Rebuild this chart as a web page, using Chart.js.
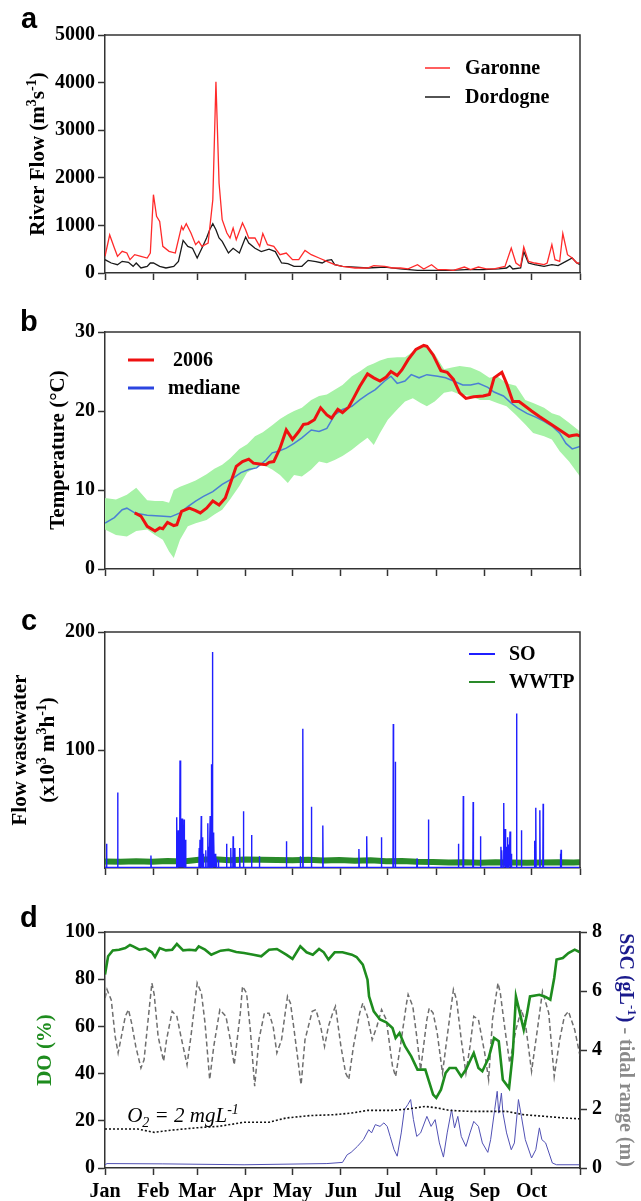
<!DOCTYPE html>
<html>
<head>
<meta charset="utf-8">
<script src="https://cdn.jsdelivr.net/npm/chart.js@4.4.1/dist/chart.umd.min.js"></script>
<style>
  html, body { margin: 0; padding: 0; background: #fff; }
  .panel { position: absolute; left: 0; width: 641px; }
</style>
</head>
<body>
<div class="panel" style="top:0;height:300px"><canvas id="chartA"></canvas></div>
<div class="panel" style="top:300px;height:300px"><canvas id="chartB"></canvas></div>
<div class="panel" style="top:600px;height:300px"><canvas id="chartC"></canvas></div>
<div class="panel" style="top:900px;height:301px"><canvas id="chartD"></canvas></div>
<script>
// day of year (0 = 1 Jan 2006), month starts for the x axis
const monthStarts = [0, 31, 59, 90, 120, 151, 181, 212, 243, 273, 304];
const monthLabels = ["Jan", "Feb", "Mar", "Apr", "May", "Jun", "Jul", "Aug", "Sep", "Oct", ""];

// (a) river flow, m3/s
const garonneDays = [0,3,6,8,11,14,16,19,23,27,29,31,33,35,37,41,45,49,50,52,55,58,60,62,66,69,71,73,75,78,80,82,84,88,90,92,96,99,101,104,108,112,116,120,124,128,132,137,142,147,152,160,168,172,179,184,189,194,200,204,209,213,218,223,230,234,239,244,249,256,260,263,266,268,271,275,281,283,286,288,291,293,296,299,302,304];
const garonneFlow = [350,800,525,350,455,420,280,385,350,315,420,1645,1190,1085,560,455,420,980,910,1036,840,595,665,560,630,1540,4020,1890,1120,840,735,945,700,1050,910,735,735,560,830,595,560,385,420,280,280,475,385,315,245,175,140,105,105,155,140,105,105,85,175,85,175,70,70,55,125,70,125,85,85,140,525,210,140,545,245,210,175,210,595,280,245,830,385,315,210,210];
const dordogneDays = [0,4,8,11,15,18,20,23,27,29,31,35,39,44,47,50,53,56,59,62,65,67,69,71,73,75,79,82,86,90,92,96,100,105,109,113,117,121,126,130,135,139,142,145,147,152,160,168,179,189,200,210,221,231,242,252,257,259,261,266,268,271,275,281,286,290,295,299,302,304];
const dordogneFlow = [280,210,175,245,225,140,210,105,140,210,210,140,105,140,245,685,560,520,315,520,735,910,1036,910,735,665,420,520,420,755,630,520,450,500,450,210,195,140,140,265,240,210,265,280,175,140,125,105,125,85,55,55,55,70,70,85,105,155,85,105,450,210,175,140,175,155,245,315,210,175];

// (b) water temperature, °C
const temp2006Days = [19,23,27,32,35,37,40,44,46,49,54,58,61,65,69,73,77,80,84,88,92,95,99,103,105,108,112,116,120,124,127,130,134,138,142,145,149,152,156,159,163,168,172,176,180,183,187,190,194,199,204,206,210,215,219,223,227,231,236,242,246,249,254,257,261,265,269,273,278,285,291,297,299,302,304];
const temp2006 = [7.1,6.7,5.4,4.8,5.2,5.1,5.9,5.5,5.6,7.3,7.7,7.4,7.1,7.7,8.6,8.1,9.0,10.7,13.0,13.6,13.9,13.4,13.3,13.2,13.5,13.6,15.3,17.6,16.4,17.4,18.3,18.4,18.9,20.4,19.5,19.1,20.2,19.8,20.5,21.6,23.1,24.7,24.2,23.8,24.3,25.0,24.5,25.2,26.5,27.8,28.3,28.2,27.1,25.1,24.9,24.0,22.3,21.6,21.8,21.9,22.1,24.2,24.9,23.5,21.2,21.2,20.6,20.0,19.3,18.4,17.6,16.8,16.9,17.0,16.8];
const medianDays = [0,6,11,14,19,27,35,42,48,53,58,63,69,75,82,87,92,97,103,107,111,116,121,126,132,137,142,147,152,158,163,168,173,179,183,187,192,196,201,206,213,218,223,229,234,239,245,249,255,260,264,270,276,281,286,291,295,299,304];
const medianTemp = [5.8,6.5,7.5,7.7,7.1,6.8,6.7,6.6,7.1,7.9,8.6,9.2,9.8,10.7,11.5,12.2,12.6,12.8,13.8,14.7,14.9,15.3,15.9,16.6,17.6,17.4,17.8,19.5,20.2,20.6,21.4,22.1,22.7,23.8,24.4,23.5,23.8,24.6,24.2,24.6,24.4,24.2,23.8,23.3,23.3,23.5,23.0,22.4,21.9,21.0,20.4,19.7,19.2,18.7,18.1,17.2,15.9,15.2,15.5];
const bandDays = [0,7,14,20,27,32,37,41,44,48,53,58,65,70,75,80,86,91,96,101,107,112,117,121,126,132,137,142,147,152,158,163,168,172,176,181,187,192,197,202,206,211,217,222,227,234,240,246,251,257,263,269,274,281,286,291,297,304];
const bandHigh = [9.0,8.8,9.4,10.3,8.7,8.6,8.6,8.4,10.0,10.4,10.8,11.2,12.0,12.7,13.2,14.0,15.2,15.8,16.8,17.3,18.2,19.0,19.6,20.0,20.4,21.4,21.9,22.1,22.7,23.3,24.4,25.0,25.7,26.0,26.4,26.7,26.8,26.8,27.5,28.2,28.3,27.2,25.3,25.5,25.7,25.5,25.0,24.2,24.4,23.5,23.2,21.4,21.0,20.4,19.7,19.4,18.5,17.4];
const bandLow = [5.0,4.3,4.1,4.8,5.0,4.3,3.7,2.2,1.4,3.7,5.4,5.8,6.2,6.9,7.5,8.8,10.5,12.2,12.8,13.2,12.6,11.9,10.9,11.9,11.7,12.6,13.6,13.4,13.8,14.3,15.1,15.9,16.6,15.7,17.2,18.9,20.2,21.2,21.6,21.0,20.6,21.2,22.3,22.5,22.1,21.9,21.4,21.4,21.0,20.6,19.5,18.3,17.2,16.8,16.4,14.9,13.6,11.7];

// (c) wastewater flow, x10^3 m3/h
const soDays = [1,8.1,29.4,45.9,46.4,46.9,47.5,48,48.6,49.3,50,50.6,51.6,60.3,60.8,61.2,61.6,62.4,63,64.5,65.8,66.5,67.3,68.1,68.7,69.2,69.7,70.5,71.2,72.6,77.8,80.5,82,83.1,86.2,88.6,93.8,98.8,116.1,125,126.6,132.1,139.4,162.5,167.5,176.9,184.5,185.8,199.7,207,226.2,229.3,235.6,240.3,253.4,254,255.2,256,256.8,257.6,258.4,259.2,260,263.4,266.5,274.9,275.7,278.3,280.4,291.4,291.9];
const soPeaks = [20.6,64,10.5,43,15,32,20,91,25,42,18,41,24,17,24,15,44,26,12,15,38,18,44,88,183,30,27,12,8,7,20.6,17,27,17,17,48,28,10,22.6,10,118,52,36,16,27,26,122,90,8,41,20.6,61,56,27,18,15,55,33,18,26,20,31,12,131,32,23,51,49,54.5,12,15.5];
const wwtpDays = [0,10,20,30,40,50,60,70,80,90,100,110,120,130,140,150,160,170,180,190,200,210,220,230,240,250,260,270,280,290,300,304];
const wwtpFlow = [5.6,5.2,5.8,5.4,6.0,5.6,7.0,7.4,6.6,7.2,7.0,6.8,6.6,7.0,6.4,6.8,6.2,6.6,5.8,6.0,5.2,5.0,4.6,4.8,4.4,4.8,4.6,4.4,4.6,4.8,4.6,4.8];

// (d) dissolved oxygen (%), tidal range (m), SSC (g/L)
const doDays = [0,2,5,9,13,16,18,22,26,30,32,35,39,43,46,50,54,58,60,64,68,74,79,84,89,95,100,105,110,116,120,125,129,133,137,140,143,147,152,158,161,165,168,169,172,176,180,184,186,188.5,192,196,200,205,207,210,212,215,218,220.5,224.5,228,231,236,239,241.5,245.5,249,252,254.6,258.6,261,263,265,268,270,272,278,282,285,287.5,289,293,296.6,300.6,304];
const doPct = [82,89.7,92.2,92.5,93.2,94.5,93.9,92.5,93,91.4,89.4,93.2,92.2,92.5,94.9,92.2,92.5,92.2,93.9,92.5,90.4,92.1,92.5,91.5,91.1,90.4,89.7,92.5,92.8,90.4,88.6,93.9,91.4,90.4,92.8,91.4,88.3,91.4,91.4,90.4,89.4,86.2,79.8,72.7,66.4,62.9,61.7,59.3,55.1,57.2,51.6,47.3,41.7,41.7,37.4,31.1,29.7,33.2,40.3,42.4,42.4,38.8,41.7,48.7,42.4,41,46.6,55.1,53.7,37.4,33.9,48.7,72.7,67.1,58.6,65,72.7,73.4,72.5,71.3,80.5,88.3,89,91.1,92.5,91.4];
const tideDays = [0,1.3,4,6.5,8.4,10.5,13,15,17,19.7,23,25,27.6,30,31.5,34,37.5,39.4,43,46,48.6,52.5,55,59,61.7,64,67,69.6,73.5,77.4,80,82.7,86.6,88,90.6,93,95.8,98.5,102,105,107.6,110,113,116.8,118.7,121,125.5,128,132.6,135,138,140.5,143,145.7,147.5,151,154,156,159,163,165,168,171,174,177,180,184,186,189,193,194,197,199.5,202,206,207.5,210,212.6,216,219,223,225,228,231,233.6,236,239,243,245.5,248,251.5,253,256,259,263,266.5,269,273,277,280,284,287.5,291,294,296.6,300.6,304];
const tideRange = [5.76,6.05,5.7,4.46,3.9,4.46,5.14,5.37,4.92,4.12,3.39,3.67,5.03,6.27,5.88,4.46,3.62,4.35,5.31,5.14,4.46,3.5,4.46,6.27,5.93,4.92,3.0,4.12,5.37,5.14,4.4,3.5,5.25,6.16,5.93,4.69,2.77,4.35,5.25,5.25,4.8,3.9,4.35,5.82,5.59,4.69,2.82,4.35,5.31,5.37,4.8,4.12,4.8,5.25,5.48,4.12,3.22,3.0,4.12,5.25,5.59,5.14,4.35,4.8,5.37,5.03,3.45,3.1,4.12,5.59,5.88,5.48,4.46,3.33,5.03,5.42,5.25,4.58,3.22,4.46,6.05,5.7,4.35,3.22,4.12,5.14,5.03,3.9,3.0,5.03,6.27,5.93,4.69,3.56,4.69,5.37,4.92,3.28,4.8,5.99,5.25,3.1,4.35,5.14,5.31,4.69,3.8];
const o2Days = [0,21,31.5,42,58,73.5,89,105,116,131,147,158,168,184,194,205,213,220.5,233.6,247,257,268,281,294,304];
const o2Pct = [16.5,16.5,15.1,16,17,17.7,19.4,19.4,21.2,22.2,22.6,23.3,24.4,24.4,25,26.1,25.4,24.4,24,24,24,22.6,21.9,21.2,20.8];
const sscDays = [0,1.3,37,89,142,152,155,157.5,161.5,165.4,168.8,170.6,173,176,178.5,180.6,182.5,185,187,189.6,191.6,193.8,195.6,197.4,199.5,202,206,208.7,211.3,214,216.6,219,221.8,223.7,225.8,228,231,233.6,236,239,241.5,245,246.8,249.4,251,252,253.7,254.7,257,260,262,264.6,266.5,269,273,275.7,278,279.6,282,286.3,289,304];
const sscVal = [0.11,0.15,0.14,0.11,0.15,0.19,0.45,0.53,0.73,0.96,1.3,1.19,1.47,1.41,1.53,1.41,1.07,0.62,0.4,1.19,1.98,2.15,2.32,1.64,1.07,1.19,1.75,1.41,1.64,0.85,0.37,1.19,1.98,1.36,1.75,1.07,0.73,1.19,1.58,1.41,0.85,0.53,0.96,1.98,2.6,1.86,2.54,1.86,1.19,0.62,0.85,2.32,1.75,0.96,0.34,0.62,1.36,0.96,0.85,0.17,0.11,0.11];

const FONT = "'Liberation Serif', 'Times New Roman', Times, serif";
const SANS = "'Liberation Sans', Arial, sans-serif";

const pts = (xs, ys) => xs.map((x, i) => ({ x: x, y: ys[i] }));

// each overflow event as a narrow spike from the baseline
const spikes = (days, peaks) => {
  let list = [{ x: 0, y: 0.5 }];
  days.map((d, i) => [d, peaks[i]])
    .sort((a, b) => a[0] - b[0])
    .forEach(([d, h]) => {
      list.push({ x: d - 0.2, y: 0.5 }, { x: d, y: h }, { x: d + 0.2, y: 0.5 });
    });
  list.push({ x: 304, y: 0.5 });
  return list;
};

// text with superscripts / subscripts, centred on (cx, cy)
const drawRich = (ctx, parts, cx, cy, angle, size, style) => {
  ctx.save();
  ctx.translate(cx, cy);
  ctx.rotate(angle);
  const fontFor = (p) =>
    style + " " + (p.sup || p.sub ? Math.round(size * 0.65) : size) + "px " + FONT;
  let total = 0;
  parts.forEach((p) => {
    ctx.font = fontFor(p);
    p.w = ctx.measureText(p.t).width;
    total += p.w;
  });
  let x = -total / 2;
  ctx.textAlign = "left";
  ctx.textBaseline = "alphabetic";
  parts.forEach((p) => {
    ctx.font = fontFor(p);
    ctx.fillStyle = p.color || "#000";
    let dy = p.sup ? -size * 0.4 : p.sub ? size * 0.22 : 0;
    ctx.fillText(p.t, x, size * 0.33 + dy);
    x += p.w;
  });
  ctx.restore();
};

const legendItem = (ctx, y, x1, x2, color, width, textX, text) => {
  ctx.save();
  ctx.strokeStyle = color;
  ctx.lineWidth = width;
  ctx.beginPath();
  ctx.moveTo(x1, y);
  ctx.lineTo(x2, y);
  ctx.stroke();
  ctx.fillStyle = "#000";
  ctx.font = "bold 20px " + FONT;
  ctx.textBaseline = "middle";
  ctx.fillText(text, textX, y + 1);
  ctx.restore();
};

const panelLetter = (ctx, letter, x, y) => {
  ctx.save();
  ctx.fillStyle = "#000";
  ctx.font = "bold 29px " + SANS;
  ctx.textBaseline = "alphabetic";
  ctx.fillText(letter, x, y);
  ctx.restore();
};

const frameTopRight = (chart) => {
  const ctx = chart.ctx;
  const a = chart.chartArea;
  ctx.save();
  ctx.strokeStyle = "#333";
  ctx.lineWidth = 1.5;
  ctx.beginPath();
  ctx.moveTo(a.left, a.top);
  ctx.lineTo(a.right, a.top);
  ctx.lineTo(a.right, a.bottom);
  ctx.stroke();
  ctx.restore();
};

const xScale = (height, showLabels) => ({
  type: "linear",
  min: 0,
  max: 304,
  afterBuildTicks: (s) => {
    s.ticks = monthStarts.map((v) => ({ value: v }));
  },
  afterFit: (s) => {
    s.height = height;
  },
  grid: { drawOnChartArea: false, drawTicks: true, tickLength: 7, tickColor: "#333", tickWidth: 1.5 },
  border: { color: "#333", width: 1.5 },
  ticks: {
    autoSkip: false,
    maxRotation: 0,
    padding: 5,
    color: "#000",
    font: { family: FONT, size: 20, weight: "bold" },
    callback: (v, i) => (showLabels ? monthLabels[i] : ""),
  },
});

const yScale = (min, max, values, width, position) => ({
  type: "linear",
  position: position || "left",
  min: min,
  max: max,
  afterBuildTicks: (s) => {
    s.ticks = values.map((v) => ({ value: v }));
  },
  afterFit: (s) => {
    s.width = width;
  },
  grid: { drawOnChartArea: false, drawTicks: true, tickLength: 7, tickColor: "#333", tickWidth: 1.5 },
  border: { color: "#333", width: 1.5 },
  ticks: {
    padding: position === "right" ? 5 : 3,
    color: "#000",
    font: { family: FONT, size: 20, weight: "bold" },
    callback: (v) => String(v),
  },
});

const baseOptions = (padTop, padRight, scales) => ({
  responsive: true,
  maintainAspectRatio: false,
  animation: false,
  layout: { padding: { top: padTop, right: padRight, left: 0, bottom: 0 } },
  elements: { point: { radius: 0 }, line: { tension: 0 } },
  plugins: { legend: { display: false }, tooltip: { enabled: false } },
  scales: scales,
});

const lineSet = (data, color, width, extra) =>
  Object.assign({ data: data, borderColor: color, borderWidth: width, pointRadius: 0, fill: false }, extra || {});

// ---------- (a) ----------
new Chart(document.getElementById("chartA"), {
  type: "line",
  data: {
    datasets: [
      lineSet(pts(garonneDays, garonneFlow), "#ff2a2a", 1.3),
      lineSet(pts(dordogneDays, dordogneFlow), "#1a1a1a", 1.3),
    ],
  },
  options: baseOptions(35, 61, {
    x: xScale(27, false),
    y: yScale(0, 5000, [0, 1000, 2000, 3000, 4000, 5000], 105),
  }),
  plugins: [
    {
      id: "decorA",
      afterDraw(chart) {
        const ctx = chart.ctx;
        frameTopRight(chart);
        panelLetter(ctx, "a", 21, 28);
        drawRich(ctx, [{ t: "River Flow (m" }, { t: "3", sup: true }, { t: "s" }, { t: "-1", sup: true }, { t: ")" }],
          37, 154, -Math.PI / 2, 21, "bold");
        legendItem(ctx, 68, 425, 450, "#ff2a2a", 1.5, 465, "Garonne");
        legendItem(ctx, 97, 425, 450, "#1a1a1a", 1.5, 465, "Dordogne");
      },
    },
  ],
});

// ---------- (b) ----------
new Chart(document.getElementById("chartB"), {
  type: "line",
  data: {
    datasets: [
      lineSet(pts(temp2006Days, temp2006), "#ee1111", 3),
      lineSet(pts(medianDays, medianTemp), "#4a7fd4", 1.5),
      lineSet(pts(bandDays, bandLow), "rgba(0,0,0,0)", 0),
      lineSet(pts(bandDays, bandHigh), "rgba(0,0,0,0)", 0, { fill: "-1", backgroundColor: "#a6f2a6" }),
    ],
  },
  options: baseOptions(32, 61, {
    x: xScale(31, false),
    y: yScale(0, 30, [0, 10, 20, 30], 105),
  }),
  plugins: [
    {
      id: "decorB",
      afterDraw(chart) {
        const ctx = chart.ctx;
        frameTopRight(chart);
        panelLetter(ctx, "b", 20, 31);
        drawRich(ctx, [{ t: "Temperature (°C)" }], 57, 150, -Math.PI / 2, 21, "bold");
        legendItem(ctx, 60, 128, 154, "#ee1111", 3, 173, "2006");
        legendItem(ctx, 88, 128, 154, "#2b45e0", 3, 168, "mediane");
      },
    },
  ],
});

// ---------- (c) ----------
new Chart(document.getElementById("chartC"), {
  type: "line",
  data: {
    datasets: [
      lineSet(spikes(soDays, soPeaks), "#1f1fff", 1.4),
      lineSet(pts(wwtpDays, wwtpFlow), "#2a8a2a", 6),
    ],
  },
  options: baseOptions(32, 61, {
    x: xScale(32, false),
    y: yScale(0, 200, [100, 200], 105),
  }),
  plugins: [
    {
      id: "decorC",
      afterDraw(chart) {
        const ctx = chart.ctx;
        frameTopRight(chart);
        panelLetter(ctx, "c", 21, 30);
        drawRich(ctx, [{ t: "Flow wastewater" }], 19, 150, -Math.PI / 2, 21, "bold");
        drawRich(ctx, [{ t: "(x10" }, { t: "3", sup: true }, { t: " m" }, { t: "3", sup: true }, { t: "h" }, { t: "-1", sup: true }, { t: ")" }],
          47, 150, -Math.PI / 2, 21, "bold");
        legendItem(ctx, 54, 469, 495, "#1f1fff", 2, 509, "SO");
        legendItem(ctx, 82, 469, 495, "#2a8a2a", 2, 509, "WWTP");
      },
    },
  ],
});

// ---------- (d) ----------
new Chart(document.getElementById("chartD"), {
  type: "line",
  data: {
    datasets: [
      lineSet(pts(doDays, doPct), "#1e8c1e", 2.6, { yAxisID: "y" }),
      lineSet(pts(tideDays, tideRange), "#6e6e6e", 1.5, { yAxisID: "y1", borderDash: [5, 3] }),
      lineSet(pts(o2Days, o2Pct), "#111", 1.6, { yAxisID: "y", borderDash: [2, 2] }),
      lineSet(pts(sscDays, sscVal), "#5050b4", 1, { yAxisID: "y1" }),
    ],
  },
  options: baseOptions(32, 0, {
    x: xScale(33, true),
    y: yScale(0, 100, [0, 20, 40, 60, 80, 100], 105),
    y1: yScale(0, 8, [0, 2, 4, 6, 8], 61, "right"),
  }),
  plugins: [
    {
      id: "decorD",
      afterDraw(chart) {
        const ctx = chart.ctx;
        frameTopRight(chart);
        panelLetter(ctx, "d", 20, 27);
        drawRich(ctx, [{ t: "DO (%)", color: "#1e8c1e" }], 44, 150, -Math.PI / 2, 21, "bold");
        drawRich(ctx, [
          { t: "SSC (gL", color: "#1a1a8c" },
          { t: "-1", sup: true, color: "#1a1a8c" },
          { t: ")", color: "#1a1a8c" },
          { t: " - tidal range (m)", color: "#8a8a8a" },
        ], 627, 150, Math.PI / 2, 20, "bold");
        drawRich(ctx, [{ t: "O" }, { t: "2", sub: true }, { t: " = 2 mgL" }, { t: "-1", sup: true }],
          183, 215, 0, 21, "italic");
      },
    },
  ],
});
</script>
</body>
</html>
